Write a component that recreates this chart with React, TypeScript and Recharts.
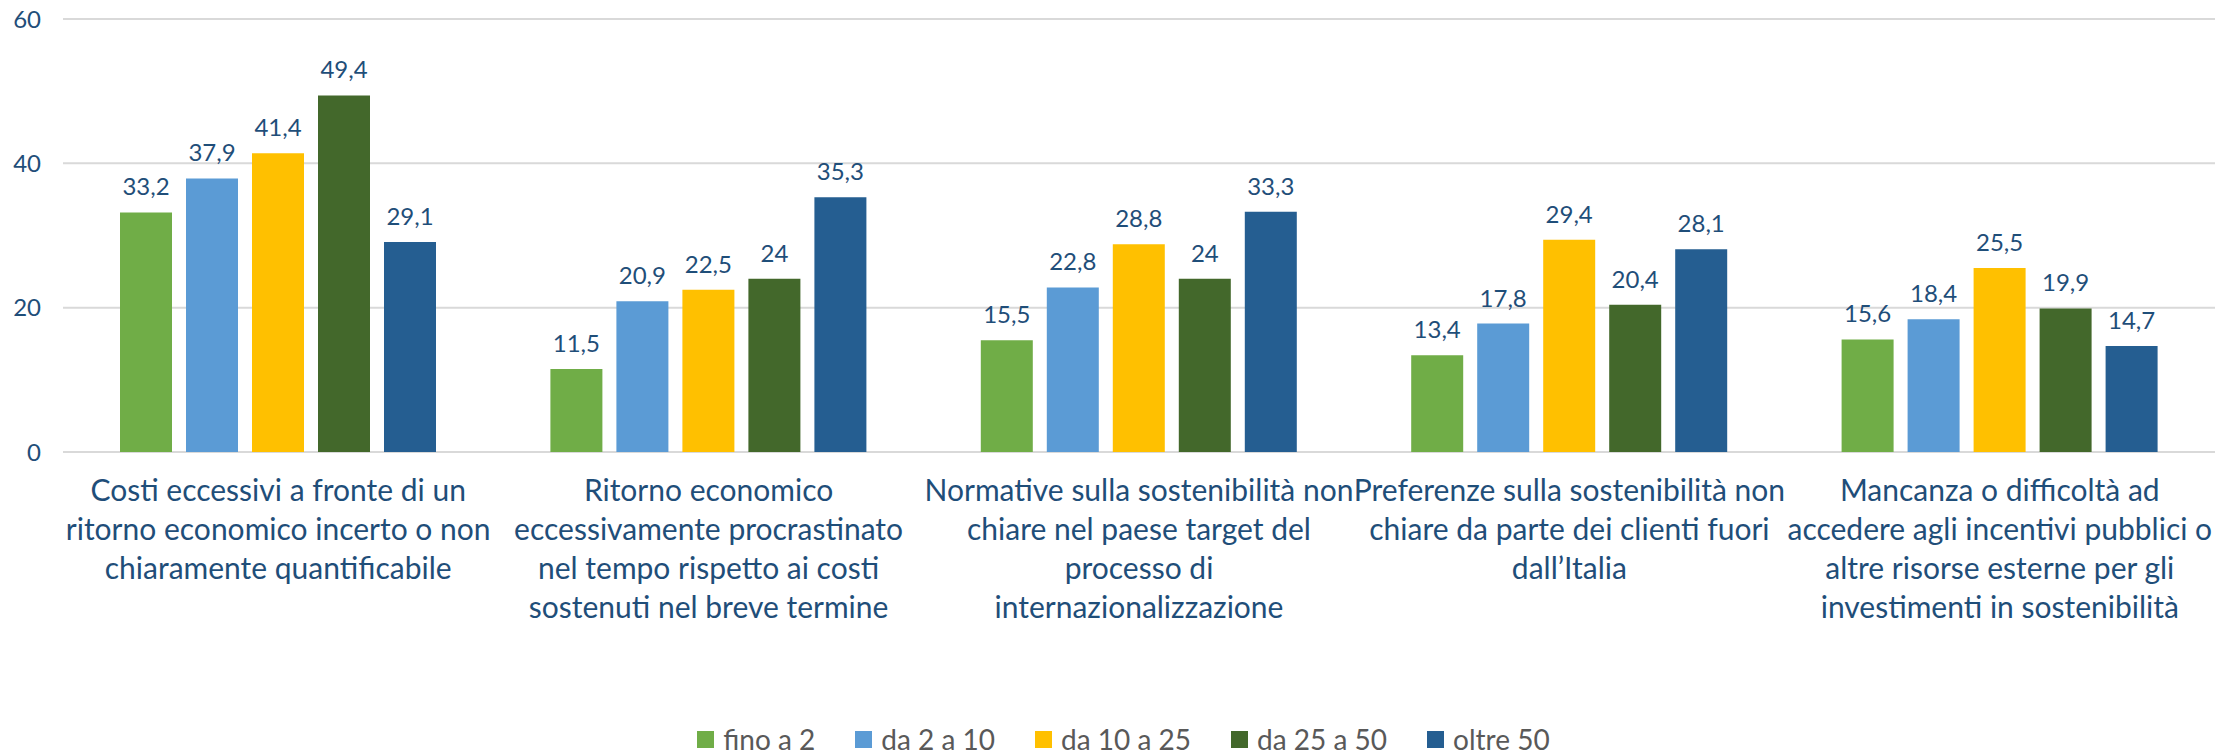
import { BarChart, Bar, XAxis, YAxis, CartesianGrid, Legend, LabelList } from 'recharts'

const FONT = 'Lato, "Open Sans", sans-serif'
const LABEL_COLOR = '#1F4E79'

// category labels, line breaks as in the original chart
const CATEGORIES = [
  'Costi eccessivi a fronte di un\nritorno economico incerto o non\nchiaramente quantificabile',
  'Ritorno economico\neccessivamente procrastinato\nnel tempo rispetto ai costi\nsostenuti nel breve termine',
  'Normative sulla sostenibilità non\nchiare nel paese target del\nprocesso di\ninternazionalizzazione',
  'Preferenze sulla sostenibilità non\nchiare da parte dei clienti fuori\ndall\u2019Italia',
  'Mancanza o difficoltà ad\naccedere agli incentivi pubblici o\naltre risorse esterne per gli\ninvestimenti in sostenibilità',
]

const FINO_A_2 = [33.2, 11.5, 15.5, 13.4, 15.6]
const DA_2_A_10 = [37.9, 20.9, 22.8, 17.8, 18.4]
const DA_10_A_25 = [41.4, 22.5, 28.8, 29.4, 25.5]
const DA_25_A_50 = [49.4, 24, 24, 20.4, 19.9]
const OLTRE_50 = [29.1, 35.3, 33.3, 28.1, 14.7]

const Y_TICKS = [0, 20, 40, 60]

const SERIES = [
  { key: 's1', name: 'fino a 2', values: FINO_A_2, color: '#70AD47' },
  { key: 's2', name: 'da 2 a 10', values: DA_2_A_10, color: '#5B9BD5' },
  { key: 's3', name: 'da 10 a 25', values: DA_10_A_25, color: '#FFC000' },
  { key: 's4', name: 'da 25 a 50', values: DA_25_A_50, color: '#43682B' },
  { key: 's5', name: 'oltre 50', values: OLTRE_50, color: '#255E91' },
]

const data = CATEGORIES.map((category, i) => {
  const row: Record<string, string | number> = { category }
  SERIES.forEach((s) => {
    row[s.key] = s.values[i]
  })
  return row
})

const fmt = (v: number) => String(v).replace('.', ',')

function CategoryTick({ x, y, payload }: any) {
  const lines = String(payload.value).split('\n')
  return (
    <text x={x} y={y} textAnchor="middle" fill={LABEL_COLOR} fontFamily={FONT} fontSize={30}>
      {lines.map((line, i) => (
        <tspan key={i} x={x} dy={i === 0 ? 41 : 39}>
          {line}
        </tspan>
      ))}
    </text>
  )
}

function LegendContent({ payload }: any) {
  // keep the series order (recharts sorts the payload by name)
  const items = SERIES.map((s) => (payload || []).find((p: any) => p.value === s.name)).filter(Boolean)
  return (
    <div
      style={{
        display: 'flex',
        justifyContent: 'center',
        alignItems: 'center',
        paddingTop: 10,
        paddingLeft: 32,
        fontFamily: FONT,
        fontSize: 28,
        color: '#595959',
      }}
    >
      {items.map((p: any) => (
        <span key={p.value} style={{ display: 'flex', alignItems: 'center', margin: '0 20px' }}>
          <span style={{ width: 17, height: 17, background: p.color, marginRight: 9 }} />
          {p.value}
        </span>
      ))}
    </div>
  )
}

export default function App() {
  return (
    <div style={{ position: 'absolute', left: 0, top: 0, width: 2236, height: 752, background: '#fff' }}>
      <BarChart
        width={2236}
        height={752}
        data={data}
        margin={{ top: 19, right: 21, bottom: 0, left: 0 }}
        barSize={52}
        barGap={14}
      >
        <CartesianGrid vertical={false} stroke="#D9D9D9" strokeWidth={2} />
        <XAxis
          dataKey="category"
          axisLine={false}
          tickLine={false}
          height={260}
          interval={0}
          tick={<CategoryTick />}
        />
        <YAxis
          domain={[0, 60]}
          ticks={Y_TICKS}
          axisLine={false}
          tickLine={false}
          width={63}
          tickMargin={16}
          tick={{ fill: LABEL_COLOR, fontSize: 24, fontFamily: FONT }}
        />
        <Legend verticalAlign="bottom" height={40} content={<LegendContent />} />
        {SERIES.map((s) => (
          <Bar key={s.key} dataKey={s.key} name={s.name} fill={s.color} isAnimationActive={false}>
            <LabelList
              dataKey={s.key}
              position="top"
              offset={17}
              formatter={(v: any) => fmt(v)}
              fill={LABEL_COLOR}
              fontSize={24}
              fontFamily={FONT}
            />
          </Bar>
        ))}
      </BarChart>
    </div>
  )
}
